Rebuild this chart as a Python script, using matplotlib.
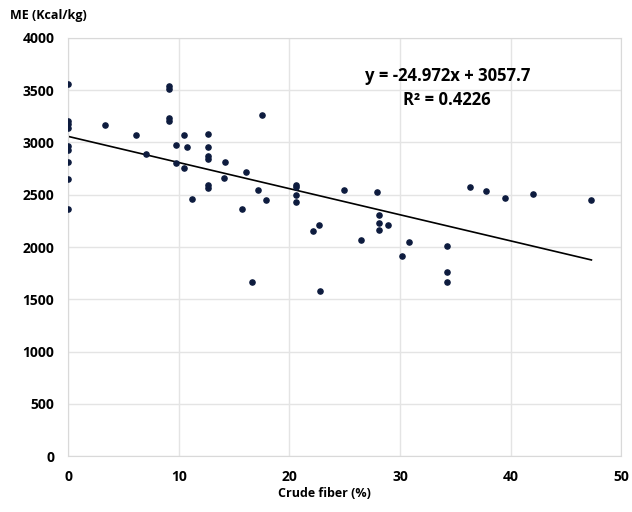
import numpy as np
import matplotlib
matplotlib.use("Agg")
import matplotlib.pyplot as plt

plt.rcParams['font.family'] = ['Open Sans', 'DejaVu Sans']

# crude fiber (%) and metabolisable energy (Kcal/kg)
fiber = [0, 0, 0, 0, 0, 0, 0, 0, 0,
         3.3, 6.1, 7.0, 9.1, 9.1, 9.1, 9.1, 9.7, 10.45, 10.7, 9.7, 10.45, 11.2,
         12.6, 12.6, 12.6, 12.6, 12.6, 12.6, 14.2, 14.1, 17.5, 16.1, 17.2, 17.9,
         15.7, 16.6, 20.6, 20.6, 20.6, 20.6, 22.15, 22.7, 22.8,
         24.9, 27.9, 28.1, 28.1, 28.1, 28.9, 26.5, 30.8, 30.2, 34.2, 34.2, 34.2,
         36.3, 37.8, 39.5, 42.0, 47.3]
me = [3563, 3206, 3174, 3142, 2963, 2932, 2814, 2655, 2364,
      3164, 3075, 2890, 3537, 3512, 3238, 3203, 2980, 3069, 2957, 2801, 2753, 2463,
      3081, 2954, 2875, 2839, 2594, 2562, 2814, 2658, 3260, 2718, 2550, 2454,
      2364, 1670, 2594, 2575, 2495, 2431, 2154, 2215, 1580,
      2543, 2524, 2304, 2230, 2160, 2215, 2072, 2052, 1915, 2010, 1759, 1663,
      2578, 2536, 2473, 2508, 2447]

slope = -24.972
intercept = 3057.7
r2 = 0.4226

fig = plt.figure(figsize=(6.32, 5.12), dpi=100)
ax = fig.add_axes([0.108, 0.109, 0.875, 0.817])

ax.scatter(fiber, me, s=14, color='#0d1b3e', zorder=3)
xl = np.array([0, max(fiber)])
ax.plot(xl, slope * xl + intercept, color='black', lw=1.2, zorder=2)

ax.set_xlim(0, 50)
ax.set_ylim(0, 4000)
ax.set_xticks(range(0, 51, 10))
ax.set_yticks(range(0, 4001, 500))
ax.grid(True, color='#e4e4e4', lw=1)
ax.set_axisbelow(True)
ax.tick_params(length=0, pad=10, labelsize=10)
for lab in ax.get_xticklabels() + ax.get_yticklabels():
    lab.set_fontweight('bold')
for sp in ax.spines.values():
    sp.set_color('#d9d9d9')

fig.text(365 / 632, 1 - 76 / 512, f"y = {slope}x + {intercept}",
         va='center', fontsize=12, fontweight='bold')
fig.text(403 / 632, 1 - 100 / 512, f"R² = {r2}",
         va='center', fontsize=12, fontweight='bold')

fig.text(0.016, 0.962, "ME (Kcal/kg)", fontsize=9, fontweight='bold')
fig.text(0.513, 0.03, "Crude fiber (%)", fontsize=9, fontweight='bold', ha='center')

fig.savefig("out.png", dpi=100)
